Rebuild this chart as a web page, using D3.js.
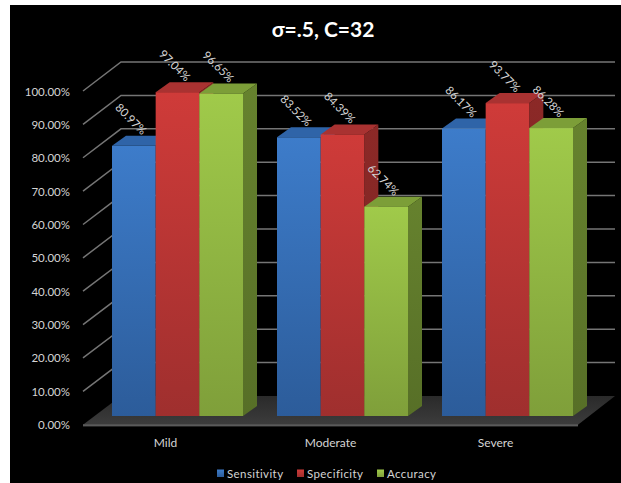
<!DOCTYPE html>
<html>
<head>
<meta charset="utf-8">
<script src="https://cdn.jsdelivr.net/npm/d3@7"></script>
<style>
html,body{margin:0;padding:0;background:#fff;}
svg{display:block;}
text{font-family:Lato,"Open Sans",sans-serif;}
</style>
</head>
<body>
<svg id="chart" width="621" height="483"></svg>
<script>
const categories = ["Mild", "Moderate", "Severe"];
const seriesNames = ["Sensitivity", "Specificity", "Accuracy"];
const sensitivity = [80.97, 83.52, 86.17];
const specificity = [97.04, 84.39, 93.77];
const accuracy = [96.65, 62.74, 86.28];
const tickValues = [0, 10, 20, 30, 40, 50, 60, 70, 80, 90, 100];
const seriesValues = [sensitivity, specificity, accuracy];

const palette = [
  {top:"#2f64a8", hi:"#3d7cca", lo:"#2c5c9a", side:"#234c80"},
  {top:"#a93231", hi:"#cf3b39", lo:"#9f2f2e", side:"#8c2927"},
  {top:"#7c9e38", hi:"#a0ca4a", lo:"#7f9f3a", side:"#66822e"}
];

const svg = d3.select("#chart");
svg.append("rect").attr("x",10).attr("y",5).attr("width",611).attr("height",478).attr("fill","#000");

// Three projections of the value axis: front edge, bar face, back wall
const yFront = d3.scaleLinear().domain([0,100]).range([424.7,91]);
const yBar = d3.scaleLinear().domain([0,100]).range([416,82.3]);
const yBack = d3.scaleLinear().domain([0,100]).range([396,62]);
const xFloor = d3.scaleBand().domain(categories).range([83,578]);
const xSeries = d3.scaleBand().domain(seriesNames).range([-65.5,65.5]);
const wallLeft = 121, wallRight = 615, depthX = 14, depthY = 10;
const clusterShift = 12;

const defs = svg.append("defs");
palette.forEach((p,i)=>{
  const g = defs.append("linearGradient").attr("id","face"+i).attr("x1",0).attr("y1",0).attr("x2",0).attr("y2",1);
  g.append("stop").attr("offset","0%").attr("stop-color",p.hi);
  g.append("stop").attr("offset","100%").attr("stop-color",p.lo);
  const s = defs.append("linearGradient").attr("id","side"+i).attr("x1",0).attr("y1",0).attr("x2",0).attr("y2",1);
  s.append("stop").attr("offset","0%").attr("stop-color",p.side);
  s.append("stop").attr("offset","100%").attr("stop-color",d3.color(p.side).darker(0.45));
});
const floorGrad = defs.append("linearGradient").attr("id","floor").attr("x1",0).attr("y1",0).attr("x2",0).attr("y2",1);
floorGrad.append("stop").attr("offset","0%").attr("stop-color","#2a2a2a");
floorGrad.append("stop").attr("offset","100%").attr("stop-color","#3c3c3c");

// Gridlines along the back wall and down the left side
const gridColor = "#757575";
const grid = svg.append("g");
grid.selectAll("path").data(tickValues.filter(d=>d>0)).join("path")
  .attr("d",d=>`M${83},${yFront(d)}L${wallLeft},${yBack(d)}L${wallRight},${yBack(d)}`)
  .attr("fill","none").attr("stroke",gridColor).attr("stroke-width",1.5);

// Floor slab
svg.append("path")
  .attr("d",`M83,${yFront(0)}L${wallLeft},${yBack(0)}L${wallRight},${yBack(0)}L578,${yFront(0)}Z`)
  .attr("fill","url(#floor)");
svg.append("rect").attr("x",83).attr("y",yFront(0)-0.5).attr("width",495).attr("height",2.2).attr("fill","#5a5a5a");

// Bars, painted left to right so nearer sides overlap correctly
const bars = svg.append("g");
categories.forEach((cat,ci)=>{
  const cx = xFloor(cat)+xFloor.bandwidth()/2+clusterShift;
  seriesNames.forEach((name,si)=>{
    const v = seriesValues[si][ci];
    const x0 = cx+xSeries(name), x1 = x0+xSeries.bandwidth();
    const yT = yBar(v), yB = yBar(0);
    const g = bars.append("g");
    g.append("path")
      .attr("d",`M${x1},${yT}L${x1+depthX},${yT-depthY}L${x1+depthX},${yB-depthY}L${x1},${yB}Z`)
      .attr("fill",`url(#side${si})`);
    g.append("path")
      .attr("d",`M${x0},${yT}L${x0+depthX},${yT-depthY}L${x1+depthX},${yT-depthY}L${x1},${yT}Z`)
      .attr("fill",palette[si].top);
    g.append("rect").attr("x",x0).attr("y",yT).attr("width",x1-x0).attr("height",yB-yT)
      .attr("fill",`url(#face${si})`);
  });
});

// Rotated value labels above each bar
const labels = svg.append("g");
categories.forEach((cat,ci)=>{
  const cx = xFloor(cat)+xFloor.bandwidth()/2+clusterShift;
  seriesNames.forEach((name,si)=>{
    const v = seriesValues[si][ci];
    const lx = cx+xSeries(name)+xSeries.bandwidth()/2-2.5;
    const ly = yBar(v)-27;
    labels.append("text")
      .attr("transform",`translate(${lx},${ly}) rotate(45)`)
      .attr("text-anchor","middle").attr("dominant-baseline","central")
      .attr("font-size",11.5).attr("fill","#d4d4d4")
      .text(v.toFixed(2)+"%");
  });
});

// Value axis labels
svg.append("g").selectAll("text").data(tickValues).join("text")
  .attr("x",70).attr("y",d=>yFront(d)).attr("text-anchor","end").attr("dominant-baseline","central")
  .attr("font-size",11.5).attr("fill","#d4d4d4")
  .text(d=>d3.format(".2f")(d)+"%");

// Category labels
svg.append("g").selectAll("text").data(categories).join("text")
  .attr("x",d=>xFloor(d)+xFloor.bandwidth()/2).attr("y",442)
  .attr("text-anchor","middle").attr("dominant-baseline","central")
  .attr("font-size",12).attr("fill","#d4d4d4").text(d=>d);

// Title
svg.append("text").attr("x",323).attr("y",28).attr("text-anchor","middle").attr("dominant-baseline","central")
  .attr("font-size",21).attr("font-weight",700).attr("fill","#fff").text("σ=.5, C=32");

// Legend
const legendX = [217,297,377];
const legend = svg.append("g");
seriesNames.forEach((name,i)=>{
  legend.append("rect").attr("x",legendX[i]).attr("y",469.5).attr("width",7).attr("height",7.5)
    .attr("fill",`url(#face${i})`);
  legend.append("text").attr("x",legendX[i]+10).attr("y",473.5)
    .attr("dominant-baseline","central").attr("font-size",11.5).attr("letter-spacing",0.4)
    .attr("fill","#d4d4d4").text(name);
});
</script>
</body>
</html>
